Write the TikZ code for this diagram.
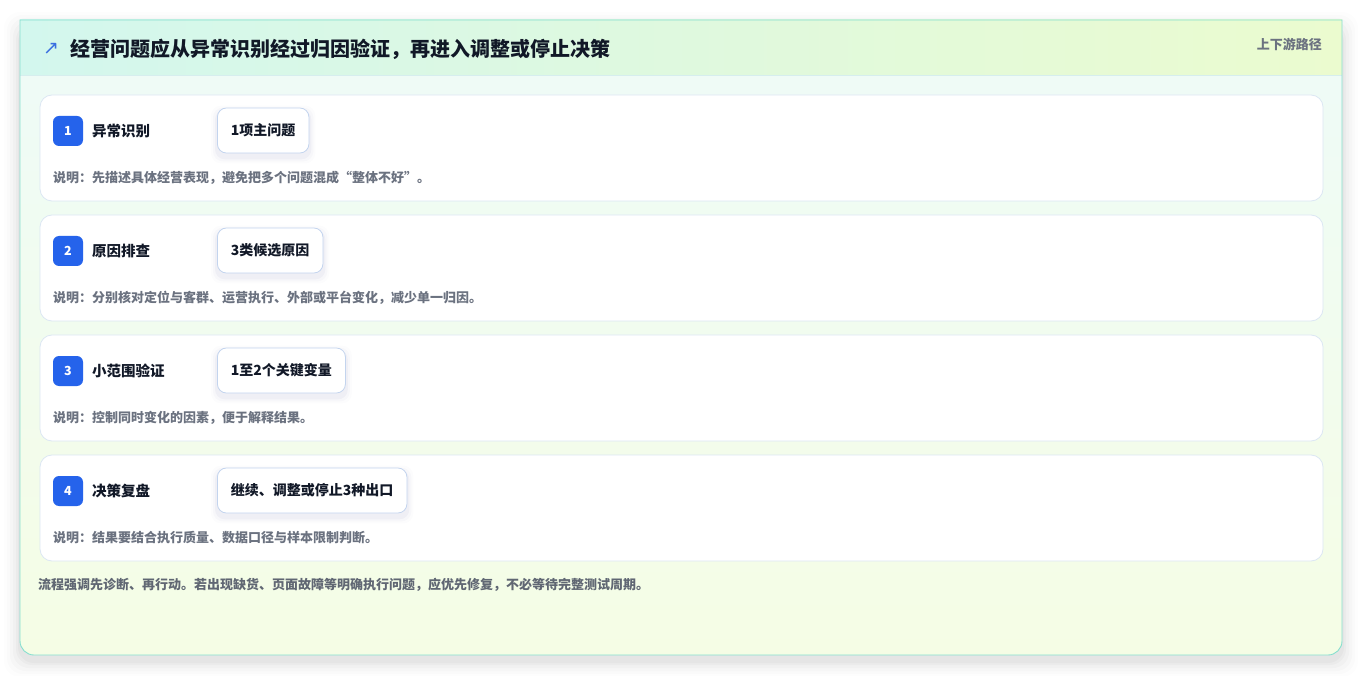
\documentclass[tikz,border=0pt]{standalone}
\usepackage{fontspec}
\setmainfont{Noto Sans CJK SC}
\newfontfamily\symfont{DejaVu Sans}
\usetikzlibrary{positioning}
\definecolor{cardborder}{HTML}{86DFCF}
\definecolor{headL}{HTML}{D3F7EE}
\definecolor{headR}{HTML}{EBFBCF}
\definecolor{bodyT}{HTML}{EEFBF8}
\definecolor{bodyB}{HTML}{F5FDE5}
\definecolor{rowborder}{HTML}{DCE7F3}
\definecolor{pillborder}{HTML}{C3D4EE}
\definecolor{badgeblue}{HTML}{2563EB}
\definecolor{darktext}{HTML}{111827}
\definecolor{graytext}{HTML}{6B7280}
\definecolor{arrowblue}{HTML}{3A6FE0}
\definecolor{sepline}{HTML}{D6EEEE}
\tikzset{
  rowbox/.style={rounded corners=12pt, fill=white, draw=rowborder, line width=0.8pt},
  badgebox/.style={rounded corners=6pt, fill=badgeblue, minimum width=30pt, minimum height=30pt, inner sep=0pt, text=white, font=\bfseries\fontsize{12.5}{14}\selectfont},
  rowtitle/.style={anchor=west, inner sep=0pt, text=darktext, font=\bfseries\fontsize{14.5}{16}\selectfont},
  pillbox/.style={anchor=west, rounded corners=9pt, fill=white, draw=pillborder, line width=0.8pt, minimum height=45pt, inner xsep=13.5pt, inner ysep=0pt, text=darktext, font=\bfseries\fontsize{14}{16}\selectfont},
  desctext/.style={anchor=west, inner sep=0pt, text=graytext, font=\bfseries\fontsize{13}{15}\selectfont},
}
\begin{document}
\begin{tikzpicture}[x=1pt,y=-1pt]
\useasboundingbox (0,0) rectangle (1363,676);
\fill[white] (0,0) rectangle (1363,676);
% card shadow
\foreach \s/\o in {16/0.008,13/0.011,10/0.014,7/0.018,4/0.022,2/0.025}{
  \fill[black, opacity=\o, rounded corners=16pt] (20-\s,20-\s+8) rectangle (1342+\s,655+\s+6);
}
% card body
\path[top color=bodyT, bottom color=bodyB] (20,20) -- (1342,20) -- (1342,641) .. controls (1342,648.7) and (1335.7,655) .. (1328,655) -- (34,655) .. controls (26.3,655) and (20,648.7) .. (20,641) -- cycle;
% header
\path[left color=headL, right color=headR] (20,20) rectangle (1342,75);
\draw[sepline, line width=0.8pt] (20,75) -- (1342,75);
% card border
\draw[cardborder, line width=0.9pt] (20,20) -- (1342,20) -- (1342,641) .. controls (1342,648.7) and (1335.7,655) .. (1328,655) -- (34,655) .. controls (26.3,655) and (20,648.7) .. (20,641) -- cycle;
% header texts
\node[anchor=center, inner sep=0pt, text=arrowblue, font=\symfont\fontsize{19}{20}\selectfont] (arrow) at (51,49) {↗};
\node[anchor=west, inner sep=0pt, text=darktext, font=\bfseries\fontsize{20}{23}\selectfont] (title) at (70,49) {经营问题应从异常识别经过归因验证，再进入调整或停止决策};
\node[anchor=east, inner sep=0pt, text=graytext, font=\bfseries\fontsize{13}{15}\selectfont] (tag) at (1322,44) {上下游路径};
% rows
\foreach \i/\num/\ttl/\pill/\desc in {
  0/1/异常识别/1项主问题/说明：先描述具体经营表现，避免把多个问题混成“整体不好”。,
  1/2/原因排查/3类候选原因/说明：分别核对定位与客群、运营执行、外部或平台变化，减少单一归因。,
  2/3/小范围验证/1至2个关键变量/说明：控制同时变化的因素，便于解释结果。,
  3/4/决策复盘/继续、调整或停止3种出口/说明：结果要结合执行质量、数据口径与样本限制判断。}{
  \pgfmathsetmacro{\yy}{95+120*\i}
  \draw[rowbox] (40,\yy) rectangle (1323,\yy+106);
  \node[badgebox] (badge\num) at (68,\yy+36) {\num};
  \node[rowtitle] (rt\num) at (92,\yy+36) {\ttl};
  \node[pillbox, opacity=0] (pillg\num) at (217,\yy+35.5) {\pill};
  \foreach \s/\o in {6/0.012,4/0.02,2/0.03}{
    \fill[black!60!blue, opacity=\o, rounded corners=10pt] ([xshift=-\s pt,yshift=\s pt-4pt]pillg\num.north west) rectangle ([xshift=\s pt,yshift=-\s pt-4pt]pillg\num.south east);
  }
  \node[pillbox] (pill\num) at (217,\yy+35.5) {\pill};
  \node[desctext] (desc\num) at (53,\yy+83) {\desc};
}
% footer
\node[desctext, text=graytext!90!black] (footer) at (38,585) {流程强调先诊断、再行动。若出现缺货、页面故障等明确执行问题，应优先修复，不必等待完整测试周期。};
\end{tikzpicture}
\end{document}
